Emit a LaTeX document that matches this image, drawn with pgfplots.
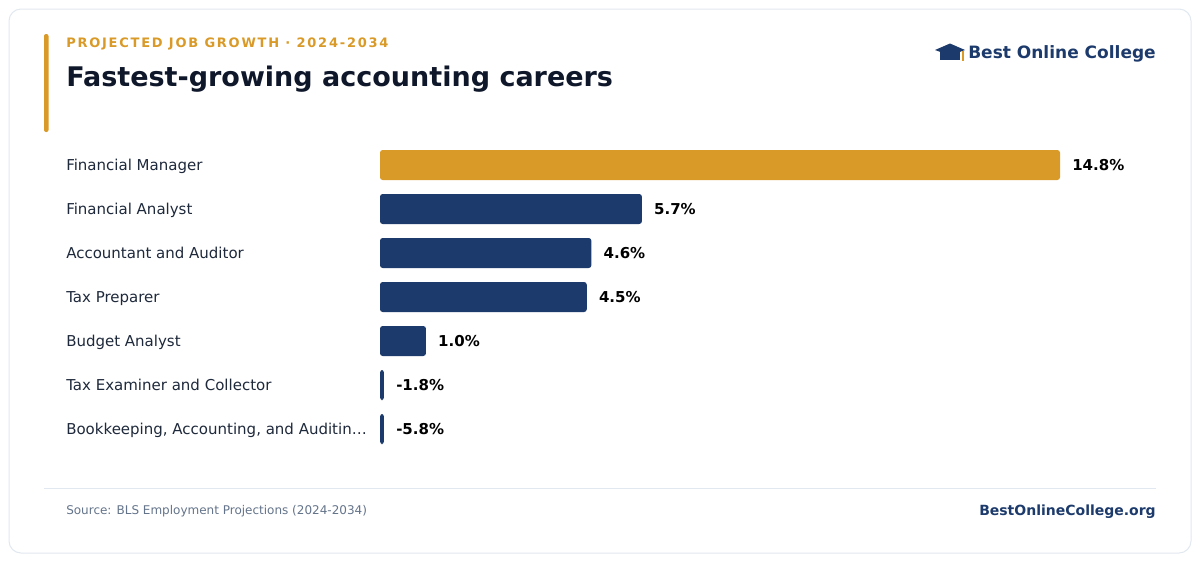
\documentclass[border=0pt]{standalone}
\usepackage{fontspec}
\setmainfont{DejaVu Sans}
\newfontfamily\spacedfont[LetterSpace=13.5]{DejaVu Sans}
\usepackage{pgfplots}
\pgfplotsset{compat=1.18}
\usepackage{pgfplotstable}
\definecolor{navy}{HTML}{1C3A6B}
\definecolor{gold}{HTML}{D99A28}
\definecolor{ink}{HTML}{0F172A}
\definecolor{labelc}{HTML}{1E293B}
\definecolor{muted}{HTML}{64748B}
\definecolor{rulec}{HTML}{E2E8F0}

\pgfplotstableread{
idx v
0 14.8
}\tophi
\pgfplotstableread{
idx v
1 5.7
2 4.6
3 4.5
4 1.0
5 -1.8
6 -5.8
}\rest

\begin{document}
\begin{tikzpicture}[x=0.75pt,y=-0.75pt]
\path[use as bounding box] (0,0) rectangle (1200,562);
\fill[white] (0,0) rectangle (1200,562);
\draw[rulec, line width=0.75pt, rounded corners=9pt, fill=white] (9,9) rectangle (1191,553);
% accent bar
\fill[gold, rounded corners=1.5pt] (44,34) rectangle (48.5,132);
% subtitle and title
\node[anchor=base west, inner sep=0pt, text=gold] at (66,47) {\spacedfont\bfseries\fontsize{9.75}{11}\selectfont PROJECTED JOB GROWTH · 2024-2034};
\node[anchor=base west, inner sep=0pt, text=ink] at (66,86) {\bfseries\fontsize{20.25}{24}\selectfont Fastest-growing accounting careers};
% logo
\fill[navy] (935,50) -- (950,43.5) -- (965,50) -- (950,55.5) -- cycle;
\fill[navy] (940,51.5) rectangle (960,59.5);
\draw[gold, line width=1.5pt] (962.5,51) -- (962.5,61);
\node[anchor=base east, inner sep=0pt, text=navy] at (1156,58.5) {\bfseries\fontsize{12.75}{15}\selectfont Best Online College};
% footer
\draw[rulec, line width=0.75pt] (44,488) -- (1156,488);
\node[anchor=base west, inner sep=0pt, text=muted] at (66,514.5) {\fontsize{9}{11}\selectfont Source: BLS Employment Projections (2024-2034)};
\node[anchor=base east, inner sep=0pt, text=navy] at (1156,515) {\bfseries\fontsize{10.5}{12}\selectfont BestOnlineCollege.org};
% chart
\begin{axis}[
  at={(285pt,-107.25pt)}, anchor=north west,
  scale only axis, width=510pt, height=231pt,
  xmin=0, xmax=14.8, ymin=-0.5, ymax=6.5, y dir=reverse,
  clip=false,
  axis line style={draw=none},
  xtick=\empty,
  ytick={0,1,2,3,4,5,6},
  yticklabels={Financial Manager, Financial Analyst, Accountant and Auditor, Tax Preparer, Budget Analyst, Tax Examiner and Collector, {Bookkeeping, Accounting, and Auditin…}},
  major tick length=0pt,
  ytick style={draw=none},
  yticklabel style={anchor=west, inner sep=0pt, text height=8.2pt, text depth=0pt, xshift=-235.5pt, text=labelc, font=\fontsize{11.25}{13}\selectfont},
  xbar, bar width=22.5pt, bar shift=0pt,
  point meta=explicit,
  nodes near coords={\pgfmathprintnumber[fixed,fixed zerofill,precision=1,assume math mode=true]{\pgfplotspointmeta}\%},
  nodes near coords style={anchor=west, inner sep=0pt, text height=8.2pt, text depth=0pt, xshift=9pt, text=black, font=\bfseries\fontsize{11.25}{13}\selectfont},
]
\addplot[draw=none, fill=gold, rounded corners=2pt] table[x expr={max(\thisrow{v},0.087)}, y=idx, meta=v] {\tophi};
\addplot[draw=none, fill=navy, rounded corners=2pt] table[x expr={max(\thisrow{v},0.087)}, y=idx, meta=v] {\rest};
\end{axis}
\end{tikzpicture}
\end{document}
